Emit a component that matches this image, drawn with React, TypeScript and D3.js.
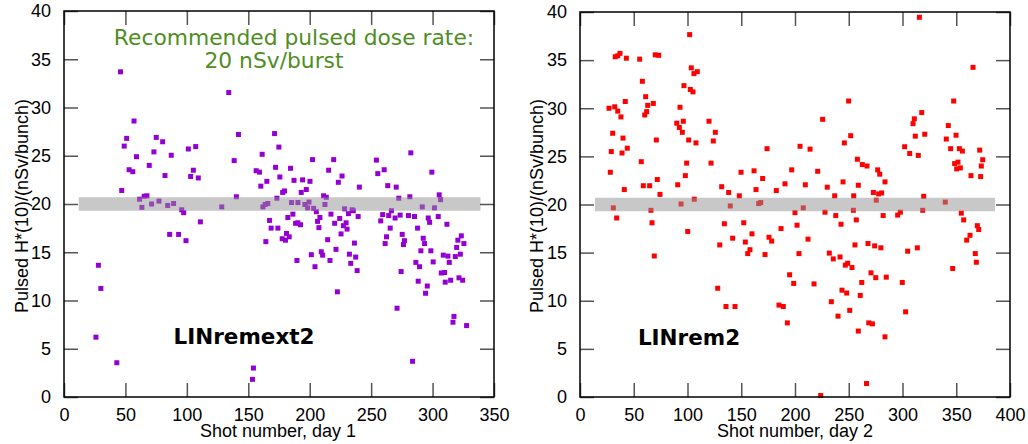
import { useRef, useEffect } from "react";
import * as d3 from "d3";

// shot number, pulsed H*(10) in nSv/bunch
const day1Points: [number, number][] = [
  [26, 6.2], [28, 13.65], [30, 11.25], [43, 3.55], [46, 33.7], [47, 21.4], [49, 26.0], [51, 26.8],
  [53, 23.55], [56, 23.35], [57, 28.6], [59, 24.9], [61.5, 20.5], [63.4, 19.65], [65.3, 20.8],
  [67.5, 20.85], [69.4, 24.0], [71.3, 20.0], [73.2, 25.4], [75.1, 26.9], [77.3, 20.3], [80.3, 26.45],
  [82.2, 22.95], [84.4, 19.85], [86, 16.85], [87.3, 25.05], [89.2, 20.05], [93.3, 16.85], [95.8, 19.4],
  [97.4, 19.1], [99.3, 16.2], [101.2, 25.7], [103.1, 22.85], [105.3, 23.5], [107.2, 25.95], [109.3, 22.7],
  [111, 18.15], [128.4, 19.7], [134.1, 31.55], [138.5, 24.5], [140.3, 20.75], [142, 27.2], [153.4, 1.83],
  [154.2, 3.0], [156.4, 23.45], [159.1, 23.3], [161.3, 25.15], [160.2, 21.85], [161.9, 19.7],
  [163.7, 19.95], [165.1, 22.35], [164.3, 16.1], [165.9, 20.05], [167.3, 18.3], [168.6, 17.5],
  [171.4, 27.3], [172.2, 23.8], [173.3, 20.6], [174.1, 17.5], [174.9, 25.9], [175.7, 22.8],
  [177.6, 16.4], [178, 21.2], [179.5, 21.35], [180.3, 16.25], [181.1, 16.95], [182.2, 18.6],
  [183.3, 16.6], [184.4, 23.7], [185.2, 20.15], [186.3, 18.95], [187.2, 22.45], [188.5, 18.0],
  [189.6, 14.15], [190.4, 20.15], [190.4, 18.05], [192.5, 17.85], [193.1, 21.2], [194.2, 22.5],
  [196.1, 19.95], [197.2, 21.5], [198.3, 19.6], [199.4, 20.2], [200.2, 22.35], [201.3, 14.75],
  [202.3, 24.6], [203.2, 19.55], [204.3, 13.5], [205.4, 19.2], [206.4, 18.2], [207.5, 17.55],
  [208.3, 18.6], [209.4, 15.05], [210.5, 14.7], [211.3, 20.85], [212.4, 19.95], [213.5, 20.7],
  [214.6, 16.3], [215.4, 23.5], [216.5, 14.15], [217.3, 18.95], [219.5, 24.6], [220.3, 18.0],
  [221.4, 15.3], [222.5, 10.9], [223.3, 22.25], [224.4, 18.5], [225.5, 16.9], [226.3, 22.9],
  [227.4, 17.75], [228.4, 19.5], [229.6, 18.05], [230.4, 17.4], [231.5, 19.0], [232.3, 14.8],
  [233.4, 13.85], [234.5, 19.4], [235.5, 19.3], [236.4, 15.95], [237.4, 14.5], [238.6, 13.1],
  [239.4, 18.7], [240.4, 21.75], [254.3, 24.55], [255.4, 23.15], [257.8, 18.25], [259.4, 18.9],
  [260.6, 23.55], [261.4, 15.9], [262.5, 16.6], [263.5, 21.9], [264.3, 18.8], [265.5, 17.5],
  [266.5, 19.3], [269.5, 18.55], [270.4, 21.75], [271.1, 9.2], [272.5, 20.6], [273.6, 18.85],
  [274.4, 13.0], [275.3, 16.85], [276.3, 15.8], [277.1, 16.2], [280.4, 18.8], [281.5, 20.75],
  [282.3, 25.3], [283.7, 3.7], [285.3, 18.7], [286.4, 13.95], [287.8, 17.5], [288.3, 12.0],
  [289.4, 13.5], [290.5, 15.15], [291.6, 19.7], [292.4, 16.45], [293.5, 15.9], [294.3, 10.75],
  [295.7, 11.5], [296.5, 18.55], [297.6, 18.1], [298.6, 15.15], [299.4, 23.3], [300.5, 14.0],
  [301.6, 19.6], [304.6, 18.7], [305.4, 20.95], [306.5, 20.45], [307.1, 12.85], [308.7, 14.7],
  [309.8, 12.9], [310.3, 11.9], [311.7, 17.9], [312.5, 14.6], [313.6, 13.95], [314.7, 12.1],
  [316.6, 7.75], [317.4, 8.35], [318.5, 14.55], [319.6, 15.5], [320.6, 16.25], [321.5, 12.35],
  [322.6, 14.8], [323.4, 16.7], [324.5, 12.1], [325.5, 15.9], [327.7, 7.4],
];

const day2Points: [number, number][] = [
  [27, 30.0], [28.2, 23.35], [29.1, 25.5], [30.4, 27.4], [31, 19.65], [32.3, 30.15], [32.8, 35.35],
  [34.1, 18.6], [35.1, 35.45], [35.1, 29.7], [37.2, 35.7], [38.1, 29.1], [39.1, 25.35], [40, 26.9],
  [41.2, 21.55], [42.1, 30.7], [43.1, 35.2], [44, 25.85], [55.5, 35.1], [57, 24.45], [58, 32.8],
  [58.9, 21.95], [60.2, 29.3], [61.1, 31.2], [62, 29.65], [63, 30.3], [64.8, 21.95], [66, 19.4],
  [67, 18.1], [68.2, 30.5], [69.1, 14.65], [70, 35.55], [71, 26.7], [71.9, 22.6], [73.2, 35.5],
  [74.4, 21.05], [90, 28.45], [90.9, 22.05], [92.4, 28.0], [93, 30.1], [94, 20.05], [95.2, 27.5],
  [96.1, 28.65], [96.7, 32.35], [98, 23.0], [99.2, 24.3], [100.2, 17.2], [101.1, 26.7], [102, 37.65],
  [102.6, 31.95], [103.5, 34.2], [105.1, 31.7], [106, 33.6], [106.3, 20.55], [107.9, 26.4],
  [109.1, 33.8], [120, 28.65], [121.9, 24.3], [124, 26.6], [125.9, 27.5], [128.1, 11.3], [130, 15.8],
  [131.8, 21.85], [134.3, 18.0], [135.8, 9.4], [138.3, 21.25], [139.8, 19.85], [142, 16.5],
  [144.2, 9.4], [148.2, 20.9], [149.8, 23.35], [152.3, 18.1], [153.8, 16.1], [156, 14.9],
  [158.1, 15.3], [160, 16.95], [161.9, 23.5], [163.7, 21.55], [166.2, 20.1], [168.1, 20.2],
  [169.9, 22.7], [172.1, 14.8], [174, 25.8], [175.8, 16.6], [178.3, 16.2], [182.6, 21.45],
  [185.1, 9.55], [187, 17.5], [189.1, 9.4], [190.7, 22.15], [192.9, 7.7], [195, 12.7],
  [196.9, 23.6], [198.8, 11.8], [200, 19.15], [201.9, 17.85], [203.7, 14.9], [204.7, 26.05],
  [207.7, 19.65], [209.6, 22.05], [212.1, 16.4], [214, 25.75], [217.7, 11.75], [221.1, 23.45],
  [223.9, 0.15], [225.7, 28.85], [227.9, 19.2], [230, 21.8], [231.9, 14.95], [233.8, 9.9],
  [235.6, 14.35], [236.9, 20.9], [237.9, 18.85], [240, 8.4], [241.9, 14.55], [242.8, 17.95],
  [243.7, 11.1], [244.7, 22.35], [245.9, 26.4], [246.8, 13.7], [248.1, 10.8], [249, 13.9],
  [249.9, 30.75], [250.9, 9.0], [251.8, 27.15], [253, 13.45], [254.3, 19.4], [254.6, 20.9],
  [255.8, 15.8], [257, 18.4], [258, 24.7], [258.9, 22.0], [258.9, 6.85], [260.7, 10.55],
  [262.1, 11.9], [262.6, 24.15], [266.5, 1.4], [267, 24.0], [267.9, 15.95], [268.6, 7.7],
  [270.7, 12.9], [272, 7.6], [272.9, 21.25], [274.1, 15.7], [275.1, 12.4], [275.6, 20.45],
  [276.9, 23.6], [277.8, 21.1], [278.8, 23.15], [279.9, 15.5], [280.6, 21.2], [282, 18.85],
  [283.7, 22.35], [283.7, 6.25], [284.9, 12.45], [295.5, 18.9], [298, 19.2], [299.8, 11.9],
  [302, 26.0], [302.9, 8.85], [304.8, 15.15], [306.7, 25.3], [309.8, 28.4], [311, 28.9],
  [311.9, 27.1], [313.8, 15.5], [314.7, 25.1], [315.7, 39.45], [317.9, 29.55], [318.8, 19.4],
  [319.7, 20.85], [320.7, 27.3], [339.8, 20.25], [340.7, 26.8], [342.6, 28.2], [344.8, 25.8],
  [346.7, 13.35], [347.6, 30.75], [348.5, 24.25], [349.8, 27.2], [350.4, 23.7], [351.6, 24.4],
  [352.9, 25.8], [353.8, 23.8], [354.7, 19.1], [355.7, 25.55], [356.9, 18.4], [359.7, 16.3],
  [362.8, 16.8], [363.7, 23.0], [365.6, 34.25], [367.7, 14.9], [368.7, 14.0], [369.6, 17.8],
  [370.9, 17.4], [371.8, 25.65], [372.7, 22.9], [373.3, 24.0], [374.6, 24.65],
];

const yTicks = [0, 5, 10, 15, 20, 25, 30, 35, 40];
const day1XTicks = [0, 50, 100, 150, 200, 250, 300, 350];
const day2XTicks = [0, 50, 100, 150, 200, 250, 300, 350, 400];

// recommended level, drawn as a grey band
const bandLevel = 20;
const bandHalfWidth = 0.7;
const day1BandRange = [12, 339];
const day2BandRange = [14, 386];

const tickFont = "'Liberation Sans', Arial, sans-serif";
const labelFont = "'DejaVu Sans', sans-serif";

type PanelCfg = {
  points: [number, number][];
  color: string;
  xDomain: [number, number];
  xRange: [number, number];
  yRange: [number, number];
  xTicks: number[];
  band: number[];
  title: string;
  titleX: number;
  titleY: number;
  xLabel: string;
  xLabelX: number;
  yLabelX: number;
};

function drawPanel(svg: d3.Selection<SVGSVGElement, unknown, null, undefined>, cfg: PanelCfg) {
  const x = d3.scaleLinear().domain(cfg.xDomain).range(cfg.xRange);
  const y = d3.scaleLinear().domain([0, 40]).range(cfg.yRange);
  const [x0, x1] = cfg.xRange;
  const [yb, yt] = cfg.yRange;

  const g = svg.append("g");

  // points
  g.append("g")
    .selectAll("rect")
    .data(cfg.points)
    .join("rect")
    .attr("x", (d) => x(d[0]) - 2.5)
    .attr("y", (d) => y(d[1]) - 2.5)
    .attr("width", 5)
    .attr("height", 5)
    .attr("fill", cfg.color);

  // grey band on top (semi transparent)
  g.append("rect")
    .attr("x", x(cfg.band[0]))
    .attr("width", x(cfg.band[1]) - x(cfg.band[0]))
    .attr("y", y(bandLevel + bandHalfWidth))
    .attr("height", y(bandLevel - bandHalfWidth) - y(bandLevel + bandHalfWidth))
    .attr("fill", "#919191")
    .attr("fill-opacity", 0.5);

  const styleAxis = (sel: any, labels: boolean) => {
    sel.select(".domain").remove();
    sel.selectAll(".tick line").attr("stroke", "#555").attr("stroke-width", 1.5);
    if (labels)
      sel.selectAll(".tick text")
        .attr("fill", "#000")
        .style("font-family", tickFont)
        .style("font-size", "18px");
  };

  g.append("g")
    .attr("transform", `translate(0,${yb})`)
    .call(d3.axisBottom(x).tickValues(cfg.xTicks).tickSize(-14).tickSizeOuter(0).tickPadding(11).tickFormat(d3.format("d")))
    .call((s) => styleAxis(s, true));
  g.append("g")
    .attr("transform", `translate(0,${yt})`)
    .call(d3.axisTop(x).tickValues(cfg.xTicks).tickSize(-14).tickSizeOuter(0).tickFormat(() => ""))
    .call((s) => styleAxis(s, false));
  g.append("g")
    .attr("transform", `translate(${x0},0)`)
    .call(d3.axisLeft(y).tickValues(yTicks).tickSize(-14).tickSizeOuter(0).tickPadding(13).tickFormat(d3.format("d")))
    .call((s) => styleAxis(s, true));
  g.append("g")
    .attr("transform", `translate(${x1},0)`)
    .call(d3.axisRight(y).tickValues(yTicks).tickSize(-14).tickSizeOuter(0).tickFormat(() => ""))
    .call((s) => styleAxis(s, false));

  // frame
  g.append("rect")
    .attr("x", x0)
    .attr("y", yt)
    .attr("width", x1 - x0)
    .attr("height", yb - yt)
    .attr("fill", "none")
    .attr("stroke", "#000")
    .attr("stroke-width", 1.5);

  // panel name
  g.append("text")
    .attr("x", cfg.titleX)
    .attr("y", cfg.titleY)
    .attr("text-anchor", "middle")
    .style("font-family", labelFont)
    .style("font-weight", "bold")
    .style("font-size", "21.5px")
    .text(cfg.title);

  // axis titles
  g.append("text")
    .attr("x", cfg.xLabelX)
    .attr("y", 437)
    .attr("text-anchor", "middle")
    .style("font-family", tickFont)
    .style("font-size", "18px")
    .text(cfg.xLabel);
  g.append("text")
    .attr("transform", `translate(${cfg.yLabelX},206) rotate(-90)`)
    .attr("text-anchor", "middle")
    .style("font-family", tickFont)
    .style("font-size", "18px")
    .text("Pulsed H*(10)/(nSv/bunch)");
}

const App = () => {
  const svgRef = useRef<SVGSVGElement>(null);

  useEffect(() => {
    const svg = d3.select(svgRef.current!);
    svg.selectAll("*").remove();

    drawPanel(svg, {
      points: day1Points,
      color: "#9400d3",
      xDomain: [0, 350],
      xRange: [64, 494],
      yRange: [397, 11],
      xTicks: day1XTicks,
      band: day1BandRange,
      title: "LINremext2",
      titleX: 244,
      titleY: 344,
      xLabel: "Shot number, day 1",
      xLabelX: 278,
      yLabelX: 28,
    });

    drawPanel(svg, {
      points: day2Points,
      color: "#ff0000",
      xDomain: [0, 400],
      xRange: [580, 1010],
      yRange: [397, 12],
      xTicks: day2XTicks,
      band: day2BandRange,
      title: "LINrem2",
      titleX: 689,
      titleY: 345,
      xLabel: "Shot number, day 2",
      xLabelX: 795,
      yLabelX: 543,
    });

    // recommendation note
    const note = svg.append("g")
      .attr("text-anchor", "middle")
      .attr("fill", "#4f8e1f")
      .style("font-family", labelFont)
      .style("font-size", "21.8px");
    note.append("text").attr("x", 294).attr("y", 45).text("Recommended pulsed dose rate:");
    note.append("text").attr("x", 274).attr("y", 68).text("20 nSv/burst");

    return () => {
      svg.selectAll("*").remove();
    };
  }, []);

  return (
    <svg
      ref={svgRef}
      width={1028}
      height={444}
      style={{ position: "absolute", left: 0, top: 0, background: "#fff" }}
    ></svg>
  );
};

export default App;
